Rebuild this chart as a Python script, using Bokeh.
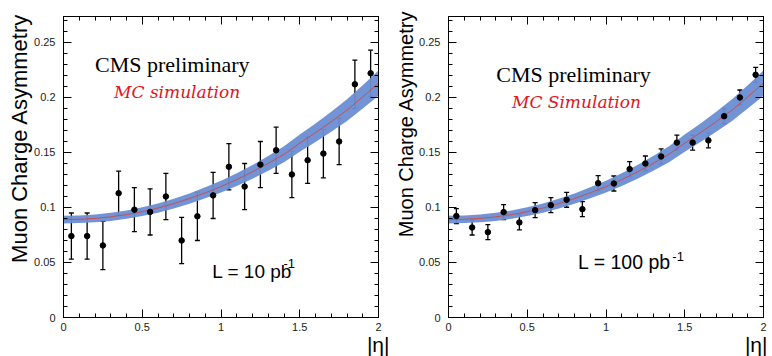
import math
from bokeh.plotting import figure
from bokeh.layouts import row
from bokeh.models import (Label, LinearAxis, SingleIntervalTicker, CustomJSTickFormatter,
                          Whisker, TeeHead, ColumnDataSource, Range1d, Title)
from bokeh.embed import file_html
from bokeh.resources import INLINE

# ---------------- data ----------------
eta_bins = [0.05, 0.15, 0.25, 0.35, 0.45, 0.55, 0.65, 0.75, 0.85, 0.95,
            1.05, 1.15, 1.25, 1.35, 1.45, 1.55, 1.65, 1.75, 1.85, 1.95]

asym_10pb = [0.074, 0.074, 0.0655, 0.113, 0.098, 0.096, 0.110, 0.070, 0.092, 0.111,
             0.137, 0.119, 0.139, 0.152, 0.130, 0.143, 0.149, 0.160, 0.212, 0.222]
err_10pb = [0.021, 0.021, 0.022, 0.020, 0.020, 0.021, 0.021, 0.021, 0.022, 0.021,
            0.021, 0.021, 0.021, 0.021, 0.021, 0.021, 0.022, 0.021, 0.022, 0.021]

asym_100pb = [0.0922, 0.0818, 0.0776, 0.0958, 0.0864, 0.0976, 0.1021, 0.107, 0.0985, 0.1221,
              0.1218, 0.1349, 0.140, 0.1464, 0.159, 0.159, 0.161, 0.183, 0.200, 0.2206]
err_100pb = [0.0068, 0.0068, 0.0068, 0.0068, 0.0068, 0.0068, 0.0068, 0.0068, 0.0068, 0.0068,
             0.0068, 0.0068, 0.0068, 0.0068, 0.0068, 0.0068, 0.0068, 0.0068, 0.0068, 0.0068]

fit_eta = [0.0, 0.1, 0.2, 0.3, 0.4, 0.5, 0.6, 0.7, 0.8, 0.9, 1.0,
           1.1, 1.2, 1.3, 1.4, 1.5, 1.6, 1.7, 1.8, 1.9, 2.0]
fit_mc = [0.0890, 0.0893, 0.0901, 0.0915, 0.0935, 0.0962, 0.0995, 0.1035, 0.1081, 0.1133, 0.1190,
          0.1254, 0.1324, 0.1401, 0.1484, 0.1585, 0.1680, 0.1780, 0.1885, 0.2005, 0.2130]
fit_halfwidth = [0.0035, 0.0035, 0.0036, 0.0037, 0.0038, 0.0040, 0.0042, 0.0044, 0.0047, 0.0050, 0.0054,
                 0.0058, 0.0062, 0.0067, 0.0072, 0.0078, 0.0084, 0.0091, 0.0098, 0.0106, 0.0115]

x_ticks_interval = 0.5
y_ticks_interval = 0.05

BAND = "#6a8dd2"
RED = "#d8403a"

NUM_FMT = "return String(Number(tick.toFixed(4)));"
EMPTY_FMT = "return '';"


def make_panel(width, border_left, border_right, border_top, border_bottom,
               vals, errs, y_label_size, y_label_offset, eta_offset, eta_standoff, texts):
    p = figure(width=width, height=356, output_backend="svg", toolbar_location=None,
               x_range=Range1d(0, 2), y_range=Range1d(0, 0.2736),
               min_border_left=border_left, min_border_right=border_right,
               min_border_top=border_top, min_border_bottom=border_bottom)
    p.background_fill_color = "white"
    p.border_fill_color = "white"
    p.outline_line_color = "black"
    p.outline_line_width = 1
    p.grid.visible = False

    xt = SingleIntervalTicker(interval=x_ticks_interval, num_minor_ticks=5)
    yt = SingleIntervalTicker(interval=y_ticks_interval, num_minor_ticks=5)
    for ax, tk in ((p.xaxis[0], xt), (p.yaxis[0], yt)):
        ax.ticker = tk
        ax.formatter = CustomJSTickFormatter(code=NUM_FMT)
        ax.major_tick_in = 8
        ax.major_tick_out = 0
        ax.minor_tick_in = 4
        ax.minor_tick_out = 0
        ax.major_tick_line_color = "black"
        ax.minor_tick_line_color = "black"
        ax.axis_line_color = "black"
        ax.major_label_text_font = "Liberation Sans"
        ax.major_label_text_font_size = "11px"
        ax.major_label_text_color = "#222222"
        ax.axis_label = None
    p.xaxis[0].major_label_standoff = 5
    p.yaxis[0].major_label_standoff = 8

    for loc, tk in (("right", SingleIntervalTicker(interval=y_ticks_interval, num_minor_ticks=5)),
                    ("above", SingleIntervalTicker(interval=x_ticks_interval, num_minor_ticks=5))):
        ax = LinearAxis(ticker=tk, formatter=CustomJSTickFormatter(code=EMPTY_FMT),
                        major_label_text_font_size="1px", major_label_standoff=0,
                        major_tick_in=8, major_tick_out=0, minor_tick_in=4, minor_tick_out=0,
                        axis_line_color="black", major_tick_line_color="black",
                        minor_tick_line_color="black")
        p.add_layout(ax, loc)

    # MC band and central curve
    lo = [m - h for m, h in zip(fit_mc, fit_halfwidth)]
    hi = [m + h for m, h in zip(fit_mc, fit_halfwidth)]
    p.varea(x=fit_eta, y1=lo, y2=hi, fill_color=BAND, fill_alpha=0.95)
    p.line(x=fit_eta, y=fit_mc, line_color=RED, line_width=1, line_alpha=0.8)

    # data points with error bars
    src = ColumnDataSource(dict(x=eta_bins, y=vals,
                                lo=[v - e for v, e in zip(vals, errs)],
                                hi=[v + e for v, e in zip(vals, errs)]))
    w = Whisker(source=src, base="x", upper="hi", lower="lo", dimension="height",
                line_color="black", line_width=1.3,
                upper_head=TeeHead(size=5, line_color="black", line_width=1.3),
                lower_head=TeeHead(size=5, line_color="black", line_width=1.3))
    p.add_layout(w)
    p.scatter(x="x", y="y", source=src, marker="circle", size=5.5,
              fill_color="black", line_color="black")

    # axis titles (ROOT style: aligned to the high end)
    p.add_layout(Title(text="Muon Charge Asymmetry", align="right", text_font="Liberation Sans",
                       text_font_size=y_label_size, text_font_style="normal", text_color="black",
                       standoff=0, offset=y_label_offset), "left")
    p.add_layout(Title(text="|η|", align="right", text_font="Liberation Sans",
                       text_font_size="21px", text_font_style="normal", text_color="black",
                       standoff=eta_standoff, offset=eta_offset), "below")

    for t in texts:
        p.add_layout(Label(**t))
    return p


left_texts = [
    dict(x=0.20, y=0.2297, text="CMS preliminary", text_font="Liberation Serif",
         text_font_size="22px", text_color="black", text_baseline="alphabetic"),
    dict(x=0.321, y=0.205, text="MC simulation", text_font="DejaVu Serif", text_font_style="italic",
         text_font_size="17px", text_color="#e0141e", text_baseline="alphabetic"),
    dict(x=0.945, y=0.042, text="L = 10 pb", text_font="Liberation Sans",
         text_font_size="19px", text_color="black", text_baseline="alphabetic"),
    dict(x=1.397, y=0.0493, text="-1", text_font="Liberation Sans",
         text_font_size="13px", text_color="black", text_baseline="alphabetic"),
]

right_texts = [
    dict(x=0.303, y=0.2213, text="CMS preliminary", text_font="Liberation Serif",
         text_font_size="22px", text_color="black", text_baseline="alphabetic"),
    dict(x=0.403, y=0.1955, text="MC Simulation", text_font="DejaVu Serif", text_font_style="italic",
         text_font_size="17px", text_color="#e0141e", text_baseline="alphabetic"),
    dict(x=0.823, y=0.050, text="L = 100 pb", text_font="Liberation Sans",
         text_font_size="19.5px", text_color="black", text_baseline="alphabetic"),
    dict(x=1.421, y=0.0552, text="-1", text_font="Liberation Sans",
         text_font_size="13px", text_color="black", text_baseline="alphabetic"),
]

p1 = make_panel(390, 63, 12, 14, 38, asym_10pb, err_10pb, "22px", -3, -11, -6, left_texts)
p2 = make_panel(382, 58, 9, 16, 39, asym_100pb, err_100pb, "20px", -6, -4, -6, right_texts)

layout = row(p1, p2)
open("out.html", "w").write(file_html(layout, INLINE))
